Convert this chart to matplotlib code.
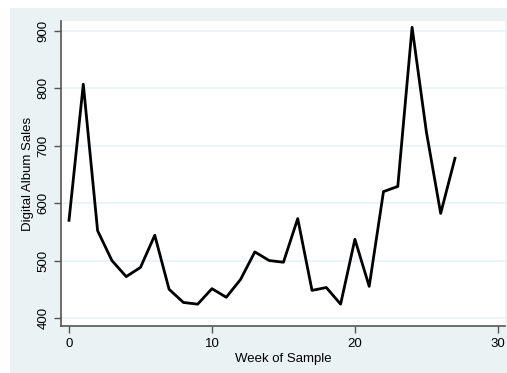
import matplotlib
matplotlib.use("Agg")
import matplotlib.pyplot as plt
from matplotlib.patches import Rectangle

# Data
weeks = list(range(28))
sales = [570, 807, 552, 500, 472, 488, 544, 450, 427, 424,
         451, 436, 467, 515, 500, 497, 573, 448, 453, 424,
         537, 455, 620, 629, 906, 724, 582, 678]
xticks = [0, 10, 20, 30]
yticks = [400, 500, 600, 700, 800, 900]

plt.rcParams['font.family'] = ['Liberation Sans', 'DejaVu Sans']

fig = plt.figure(figsize=(5.07, 3.73), dpi=100)
fig.patch.set_facecolor('white')
# Stata-style background panel
fig.patches.append(Rectangle((10 / 507, 0), 1, 1 - 8 / 373, transform=fig.transFigure,
                             facecolor='#eaf2f3', edgecolor='none', zorder=-1))

ax = fig.add_axes([61 / 507, 1 - 326 / 373, 444 / 507, 305 / 373])
ax.set_facecolor('white')
ax.plot(weeks, sales, color='black', linewidth=2.0)

ax.set_xlim(-0.56, 30.5)
ax.set_ylim(386, 917)
ax.set_xticks(xticks)
ax.set_yticks(yticks)
ax.set_yticklabels([str(v) for v in yticks], rotation=90, va='center')
ax.grid(True, axis='y', color='#eaf2f3', linewidth=1.2)
ax.set_axisbelow(True)

for s in ['top', 'right']:
    ax.spines[s].set_visible(False)
for s in ['left', 'bottom']:
    ax.spines[s].set_color('#555555')
    ax.spines[s].set_linewidth(1.2)
ax.tick_params(colors='#555555', labelcolor='black', labelsize=9.5, length=5, width=1)

ax.set_xlabel('Week of Sample', fontsize=9.5, labelpad=2)
ax.set_ylabel('Digital Album Sales', fontsize=9.5, labelpad=2)

fig.savefig('out.png', dpi=100)
